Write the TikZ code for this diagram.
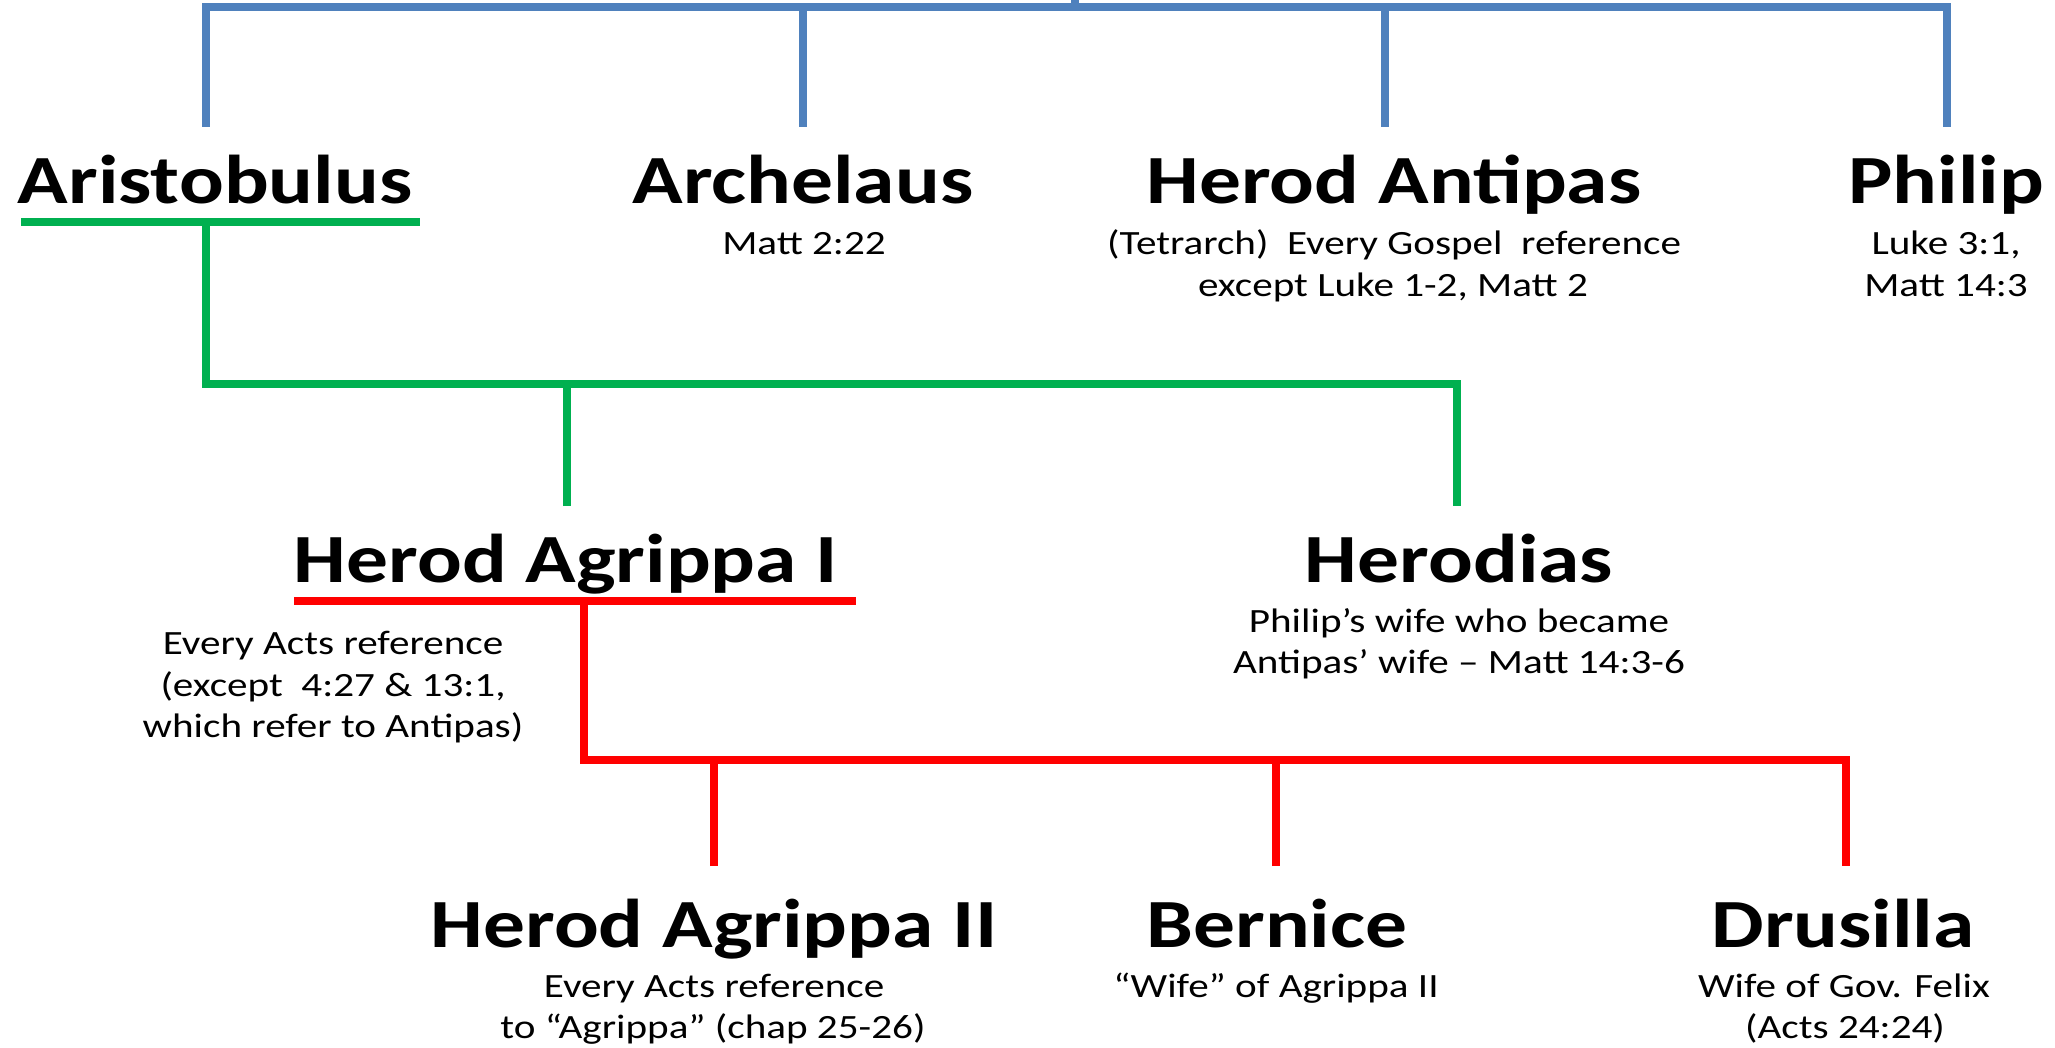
\documentclass[tikz,border=0pt]{standalone}
\usepackage{fontspec}
\setmainfont{Carlito}[FakeStretch=1.21]
\definecolor{pblue}{HTML}{4F81BD}
\definecolor{pgreen}{HTML}{00B050}
\definecolor{pred}{HTML}{FF0000}
\tikzset{
  persname/.style={anchor=base, inner sep=0pt, font=\fontsize{69}{83}\selectfont\bfseries},
  note/.style={anchor=base, inner sep=0pt, font=\fontsize{34}{42}\selectfont},
  bluel/.style={draw=pblue, line width=7.5pt, line join=miter},
  greenl/.style={draw=pgreen, line width=7.5pt, line join=miter},
  redl/.style={draw=pred, line width=7.5pt, line join=miter},
}
\begin{document}
\begin{tikzpicture}[x=1pt,y=-1pt]
\useasboundingbox (0,0) rectangle (2055,1048);
% row 1
\node[persname] (aristo) at (215,204) {Aristobulus};
\node[persname] (arche) at (803,204) {Archelaus};
\node[persname] (antipas) at (1394,204) {Herod Antipas};
\node[persname] (philip) at (1946,204) {Philip};
\node[note] (archeA) at (804,255) {Matt 2:22};
\node[note] (antipasA) at (1394,255) {(Tetrarch)\ \ Every Gospel\ \ reference};
\node[note] (antipasB) at (1393,297) {except Luke 1-2, Matt 2};
\node[note] (philipA) at (1946,255) {Luke 3:1,};
\node[note] (philipB) at (1946,297) {Matt 14:3};
% row 2
\node[persname] (agrippaI) at (566,582) {Herod Agrippa I};
\node[persname] (herodias) at (1459,582) {Herodias};
\node[note] (agrippaIA) at (333,654) {Every Acts reference};
\node[note] (agrippaIB) at (333,696) {(except\ \ 4:27 \& 13:1,};
\node[note] (agrippaIC) at (333,737) {which refer to Antipas)};
\node[note] (herodiasA) at (1459,632) {Philip’s wife who became};
\node[note] (herodiasB) at (1459,673) {Antipas’ wife – Matt 14:3-6};
% row 3
\node[persname] (agrippaII) at (714,947) {Herod Agrippa II};
\node[persname] (bernice) at (1277,947) {Bernice};
\node[persname] (drusilla) at (1843,947) {Drusilla};
\node[note] (agrippaIIA) at (714,997) {Every Acts reference};
\node[note] (agrippaIIB) at (713,1038) {to “Agrippa” (chap 25-26)};
\node[note] (berniceA) at (1276,997) {“Wife” of Agrippa II};
\node[note] (drusillaA) at (1844,997) {Wife of Gov. Felix};
\node[note] (drusillaB) at (1845,1038) {(Acts 24:24)};
% blue connectors
\coordinate (root) at (1075,0);
\coordinate (bus) at (1075,7);
\coordinate (cAri) at (206,127);
\coordinate (cArc) at (803,127);
\coordinate (cAnt) at (1385,127);
\coordinate (cPhi) at (1947,127);
\draw[bluel] (cAri) |- (cPhi |- bus) -- (cPhi);
\draw[bluel] (cArc) -- (cArc |- bus);
\draw[bluel] (cAnt) -- (cAnt |- bus);
\draw[bluel] (root) -- (bus);
% green connectors
\coordinate (ariL) at (21,222);
\coordinate (ariR) at (420,222);
\coordinate (ariD) at (206,222);
\coordinate (gbus) at (206,384);
\coordinate (cAgI) at (567,506);
\coordinate (cHer) at (1457,506);
\draw[greenl] (ariL) -- (ariR);
\draw[greenl] (ariD) -- (gbus) -| (cHer);
\draw[greenl] (cAgI) -- (cAgI |- gbus);
% red connectors
\coordinate (agL) at (294,601);
\coordinate (agR) at (856,601);
\coordinate (agD) at (584,601);
\coordinate (rbus) at (584,760);
\coordinate (cAgII) at (714,866);
\coordinate (cBer) at (1276,866);
\coordinate (cDru) at (1846,866);
\draw[redl] (agL) -- (agR);
\draw[redl] (agD) -- (rbus) -| (cDru);
\draw[redl] (cAgII) -- (cAgII |- rbus);
\draw[redl] (cBer) -- (cBer |- rbus);
\end{tikzpicture}
\end{document}
